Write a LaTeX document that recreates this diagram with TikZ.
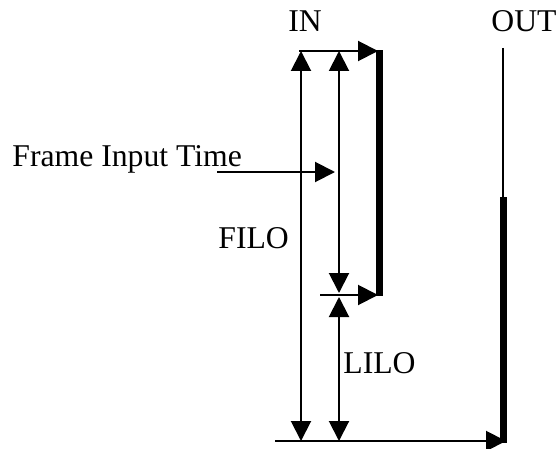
\documentclass[tikz,border=0pt]{standalone}
\usepackage{fontspec}
\setmainfont{Liberation Serif}
\usetikzlibrary{arrows.meta}

\begin{document}
\begin{tikzpicture}[x=0.5pt, y=-0.5pt,
    lbl/.style={inner sep=0pt, anchor=base west, font=\fontsize{15.85}{18}\selectfont},
    conn/.style={draw, line width=1pt},
    bar/.style={draw, line width=3.5pt},
    tip/.style={-{Triangle[length=10pt, width=10pt]}},
    tips/.style={{Triangle[length=10pt, width=10pt]}-{Triangle[length=10pt, width=10pt]}}
]
\useasboundingbox (0,0) rectangle (556,449);

% Labels
\node[lbl] (in) at (288, 32) {IN};
\node[lbl] (out) at (491, 32) {OUT};
\node[lbl] (fit) at (12, 166) {Frame Input Time};
\node[lbl] (filo) at (218, 248) {FILO};
\node[lbl] (lilo) at (343, 373) {LILO};

% Input side
\coordinate (inL) at (299, 51);
\coordinate (inR) at (378, 51);
\coordinate (inBarT) at (379.5, 50.5);
\coordinate (inBarB) at (379.5, 296);
\coordinate (lastL) at (320, 295);
\coordinate (lastR) at (378, 295);

% Measures
\coordinate (filoT) at (301, 51);
\coordinate (filoB) at (301, 441);
\coordinate (fitT) at (339, 51);
\coordinate (fitB) at (339, 293);
\coordinate (liloT) at (339, 297);
\coordinate (liloB) at (339, 441);
\coordinate (fitS) at (217, 172);
\coordinate (fitE) at (335, 172);

% Output side
\coordinate (outT) at (503, 48);
\coordinate (outM) at (503, 197);
\coordinate (outB) at (503, 443);
\coordinate (endL) at (275, 441);
\coordinate (endR) at (506, 441);

% Frame going in
\path[bar] (inBarT) -- (inBarB);
\path[conn, tip] (inL) -- (inR);
\path[conn, tip] (lastL) -- (lastR);

% Frame going out
\path[conn] (outT) -- (outM);
\path[bar] (outM) -- (outB);
\path[conn, tip] (endL) -- (endR);

% Times
\path[conn, tips] (filoT) -- (filoB);
\path[conn, tips] (fitT) -- (fitB);
\path[conn, tips] (liloT) -- (liloB);
\path[conn, tip] (fitS) -- (fitE);

\end{tikzpicture}
\end{document}
